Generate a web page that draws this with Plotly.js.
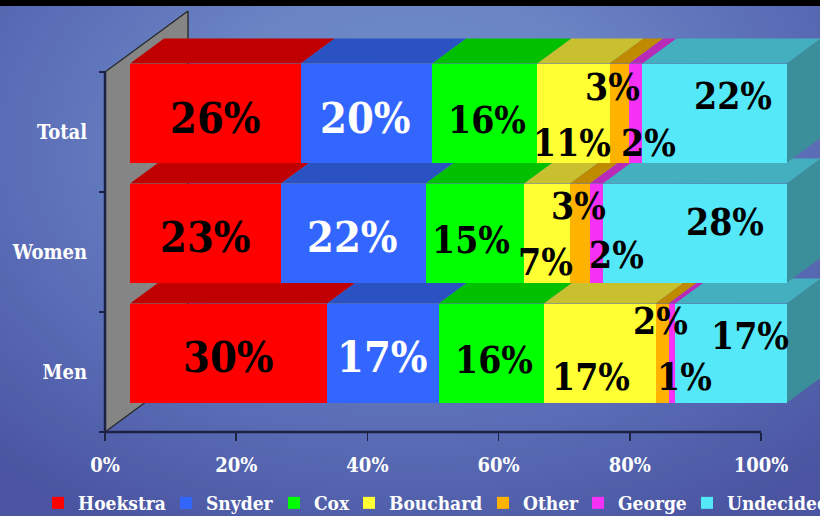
<!DOCTYPE html>
<html><head><meta charset="utf-8">
<script src="https://cdn.plot.ly/plotly-3.0.1.min.js"></script>
<style>
html,body{margin:0;padding:0;background:#4a54a0;}
#chart{width:820px;height:516px;background:radial-gradient(ellipse 75% 85% at 50% 28%, #7190cc 0%, #6a84c4 35%, #5a6db6 65%, #4a54a0 100%);}
</style></head><body><div id="chart"></div>
<script>
// ---------------- data ----------------
const categories = ['Total', 'Women', 'Men'];
const candidates = ['Hoekstra', 'Snyder', 'Cox', 'Bouchard', 'Other', 'George', 'Undecided'];
const hoekstra  = [26, 23, 30];
const snyder    = [20, 22, 17];
const cox       = [16, 15, 16];
const bouchard  = [11, 7, 17];
const other     = [3, 3, 2];
const george    = [2, 2, 1];
const undecided = [22, 28, 17];
const xTickVals = [0, 20, 40, 60, 80, 100];
const xTickText = ['0%', '20%', '40%', '60%', '80%', '100%'];

// ---------------- styles ----------------
const series = [hoekstra, snyder, cox, bouchard, other, george, undecided];
const frontColors = ['#ff0000', '#3366ff', '#00ff00', '#ffff33', '#ffb300', '#f531f5', '#55e8f8'];
const topColors   = ['#c00000', '#2b52c2', '#00c000', '#c8c02e', '#c08a00', '#b82ab8', '#44afbe'];
const sideColor = '#3a8f9a';
const labelColors = ['#000', '#fff', '#000', '#000', '#000', '#000', '#000'];
const labelSizes  = [43, 43, 37, 37, 37, 37, 37];
// per category (Total, Women, Men), per candidate: [xshift px, yshift px]
const labelShift = [
  [[0, -5], [-1, -5], [2, -7], [-1, -30], [-7, 26], [13, -30], [18, 17]],
  [[0, -4], [-1, -4], [-4, -7], [-2, -29], [-2, 27], [20, -22], [30, 11]],
  [[0, -4], [0, -4], [3, -7], [-9, -24], [-2, 32], [12, -24], [19, 17]]
];
// legend entry text start (px), one legend box per entry
const legendTextX = [75, 203, 311, 386, 520, 615, 724];
const FONT = '"DejaVu Serif Condensed", "DejaVu Serif", serif';
const AXC = '#1c2244';

// ---------------- geometry (pixel frame of the 3D look) ----------------
const W = 820, H = 516;
const fx0 = 105, fScale = (761 - 105) / 100, fyMen = 372, pitch = 120;
const bx0 = 130, bScale = (787 - 130) / 100, byMen = 353;
const barDepth = [34, 25];
const wallDepth = [83, 61];
const barThick = 99 / pitch;

const n = categories.length;
const yPos = categories.map((c, i) => n - 1 - i);

// ---------------- traces ----------------
const traces = [];
const wdx = wallDepth[0] / fScale, wdy = wallDepth[1] / pitch;
const yLo = -0.5, yHi = n - 0.5;
traces.push({
  type: 'scatter', mode: 'lines', xaxis: 'x', yaxis: 'y',
  x: [0, 0, wdx, wdx, 0], y: [yLo, yHi, yHi + wdy, yLo + wdy, yLo],
  fill: 'toself', fillcolor: '#858585', line: {color: '#262626', width: 1.3},
  hoverinfo: 'skip', showlegend: false
});
traces.push({type: 'scatter', mode: 'lines', xaxis: 'x', yaxis: 'y',
  x: [xTickVals[0], xTickVals[xTickVals.length - 1]], y: [yLo, yLo],
  line: {color: AXC, width: 2.5}, hoverinfo: 'skip', showlegend: false});
traces.push({type: 'scatter', mode: 'lines', xaxis: 'x', yaxis: 'y',
  x: [0, 0], y: [yLo, yHi], line: {color: AXC, width: 2.5}, hoverinfo: 'skip', showlegend: false});

const ddx = barDepth[0] / bScale, ddy = barDepth[1] / pitch;
const starts = series.map(() => new Array(n).fill(0));
const totals = new Array(n).fill(0);
series.forEach((s, j) => s.forEach((v, i) => { starts[j][i] = totals[i]; totals[i] += v; }));
series.forEach((s, j) => {
  const xs = [], ys = [];
  s.forEach((v, i) => {
    const a = starts[j][i], b = a + v, yt = yPos[i] + barThick / 2;
    xs.push(a, b, b + ddx, a + ddx, a, null);
    ys.push(yt, yt, yt + ddy, yt + ddy, yt, null);
  });
  traces.push({type: 'scatter', mode: 'lines', xaxis: 'x2', yaxis: 'y2', x: xs, y: ys,
    fill: 'toself', fillcolor: topColors[j], line: {width: 0, color: topColors[j]},
    hoverinfo: 'skip', showlegend: false});
});
{
  const xs = [], ys = [];
  totals.forEach((t, i) => {
    const yt = yPos[i] + barThick / 2, yb = yPos[i] - barThick / 2;
    xs.push(t, t, t + ddx, t + ddx, t, null);
    ys.push(yb, yt, yt + ddy, yb + ddy, yb, null);
  });
  traces.push({type: 'scatter', mode: 'lines', xaxis: 'x2', yaxis: 'y2', x: xs, y: ys,
    fill: 'toself', fillcolor: sideColor, line: {width: 0, color: sideColor},
    hoverinfo: 'skip', showlegend: false});
}
const legendIds = candidates.map((c, j) => j === 0 ? 'legend' : 'legend' + (j + 1));
series.forEach((s, j) => {
  traces.push({type: 'bar', orientation: 'h', xaxis: 'x3', yaxis: 'y3',
    name: candidates[j], x: s, y: yPos, width: barThick, legend: legendIds[j],
    marker: {color: frontColors[j], line: {width: 0}}, hoverinfo: 'name+x'});
});

const annotations = [];
series.forEach((s, j) => s.forEach((v, i) => {
  annotations.push({xref: 'x3', yref: 'y3', x: starts[j][i] + v / 2, y: yPos[i],
    text: v + '%', showarrow: false, xshift: labelShift[i][j][0], yshift: labelShift[i][j][1],
    font: {family: FONT, size: labelSizes[j], color: labelColors[j], weight: 'bold'}});
}));

const fRange = [-fx0 / fScale, (W - fx0) / fScale];
const fyRange = [(fyMen - H) / pitch, fyMen / pitch];
const bRange = [-bx0 / bScale, (W - bx0) / bScale];
const byRange = [(byMen - H) / pitch, byMen / pitch];
const boundaries = yPos.map(v => v - 0.5).concat([Math.max(...yPos) + 0.5]);

const layout = {
  width: W, height: H, margin: {l: 0, r: 0, t: 0, b: 0, pad: 0, autoexpand: false},
  paper_bgcolor: 'rgba(0,0,0,0)', plot_bgcolor: 'rgba(0,0,0,0)',
  barmode: 'stack', bargap: 0,
  showlegend: true,
  xaxis: {domain: [0, 1], range: fRange, anchor: 'free', position: 1 - 432 / H,
    tickmode: 'array', tickvals: xTickVals, ticktext: xTickText,
    ticks: 'outside', ticklen: 8, tickwidth: 1.5, tickcolor: AXC, ticklabelstandoff: 7,
    showgrid: false, zeroline: false, showline: false, automargin: false, fixedrange: true,
    tickfont: {family: FONT, size: 20, color: '#ffffff', weight: 'bold'}},
  yaxis: {domain: [0, 1], range: fyRange, anchor: 'free', position: fx0 / W,
    tickmode: 'array', tickvals: yPos, ticktext: categories, ticks: '',
    minor: {tickmode: 'array', tickvals: boundaries, ticks: 'outside', ticklen: 6, tickwidth: 1.5, tickcolor: AXC, showgrid: false},
    ticklabelstandoff: 18,
    showgrid: false, zeroline: false, showline: false, automargin: false, fixedrange: true,
    tickfont: {family: FONT, size: 20, color: '#ffffff', weight: 'bold'}},
  xaxis2: {overlaying: 'x', anchor: 'y2', range: bRange, visible: false, fixedrange: true},
  yaxis2: {overlaying: 'y', anchor: 'x2', range: byRange, visible: false, fixedrange: true},
  xaxis3: {overlaying: 'x', anchor: 'y3', range: bRange, visible: false, fixedrange: true},
  yaxis3: {overlaying: 'y', anchor: 'x3', range: byRange, visible: false, fixedrange: true},
  annotations: annotations,
  shapes: [{type: 'rect', xref: 'paper', yref: 'paper', x0: 0, x1: 1, y0: 1 - 6 / H, y1: 1,
    fillcolor: '#000000', line: {width: 0}, layer: 'above'}]
};
legendIds.forEach((id, j) => {
  layout[id] = {orientation: 'h', x: (legendTextX[j] - 37) / W, xanchor: 'left',
    y: 1 - 503 / H, yanchor: 'middle', bgcolor: 'rgba(0,0,0,0)', borderwidth: 0,
    itemclick: false, itemdoubleclick: false,
    font: {family: FONT, size: 19, color: '#ffffff', weight: 'bold'}};
});

Plotly.newPlot('chart', traces, layout, {displayModeBar: false, staticPlot: true});
</script></body></html>
